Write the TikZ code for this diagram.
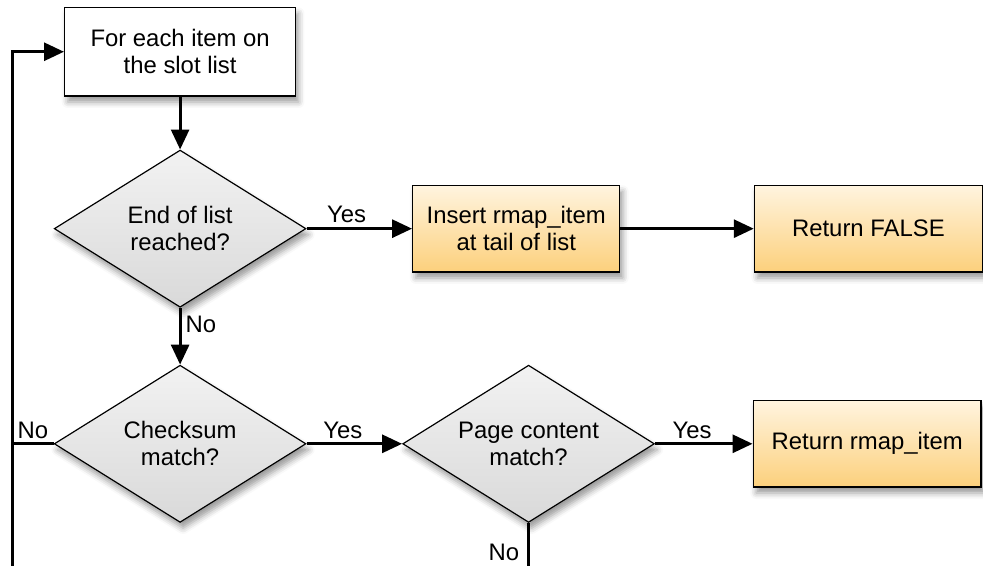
\documentclass[tikz,border=0pt]{standalone}
\usepackage{fontspec}
\setmainfont{Liberation Sans}
\usetikzlibrary{shapes.geometric, arrows.meta, positioning, shadows.blur}
\definecolor{orangetop}{HTML}{FFF4DF}
\definecolor{orangebot}{HTML}{FCD07C}
\definecolor{greytop}{HTML}{F2F2F2}
\definecolor{greybot}{HTML}{D9D9D9}
\tikzset{
  softshadow/.style={blur shadow={shadow xshift=1.5pt, shadow yshift=-3pt, shadow blur radius=3pt, shadow opacity=40}},
  process/.style={rectangle, draw, line width=0.7pt, fill=white, minimum width=116pt, minimum height=44.5pt, align=center, softshadow},
  action/.style={rectangle, draw, line width=0.7pt, top color=orangetop, bottom color=orangebot, minimum width=104pt, minimum height=43.5pt, align=center, softshadow},
  decision/.style={diamond, aspect=1.6, draw, line width=0.6pt, top color=greytop, bottom color=greybot, minimum width=126.5pt, minimum height=79pt, inner sep=0pt, align=center, softshadow},
  flow/.style={->, line width=1.5pt},
  lbl/.style={inner sep=2pt},
}
\begin{document}
\begin{tikzpicture}[font=\fontsize{12pt}{13.5pt}\selectfont, >={Triangle[length=10pt, width=9pt]}]
%main column
\node[process] (loop) {For each item on\\the slot list};
\node[decision, below=26.5pt of loop] (endlist) {End of list\\reached?};
\node[decision, below=28.5pt of endlist] (checksum) {Checksum\\match?};
%insert branch
\node[action, right=53pt of endlist] (insert) {Insert rmap\_item\\at tail of list};
\node[action, right=67pt of insert, minimum width=114.5pt] (retfalse) {Return FALSE};
%match branch
\node[decision, right=48pt of checksum] (pagematch) {Page content\\match?};
\node[action, right=49pt of pagematch, minimum width=114.5pt] (retitem) {Return rmap\_item};
%page size (bottom return line falls just outside)
\useasboundingbox ([shift={(-90.5pt,26pt)}]loop.center) rectangle ++(491.5pt,-284pt);
%loop-back corners
\coordinate (back) at ([xshift=-26pt]loop.west);
\coordinate (bottom) at ([yshift=-24.5pt]pagematch.south);
% links
\draw[flow] (loop) -- (endlist);
\draw[flow] (endlist) -- node[lbl, pos=0.38, above] {Yes} (insert);
\draw[flow] (insert) -- (retfalse);
\draw[flow] (endlist) -- node[lbl, pos=0.3, right] {No} (checksum);
\draw[flow] (checksum) -- node[lbl, pos=0.38, above] {Yes} (pagematch);
\draw[flow] (pagematch) -- node[lbl, pos=0.38, above] {Yes} (retitem);
\draw[line width=1.5pt] (checksum.west) -- node[lbl, above] {No} (checksum.west -| back);
\draw[flow] (pagematch.south) -- node[lbl, pos=0.6, left=2pt] {No} (bottom) -| (back) -- (loop.west);
\end{tikzpicture}
\end{document}
